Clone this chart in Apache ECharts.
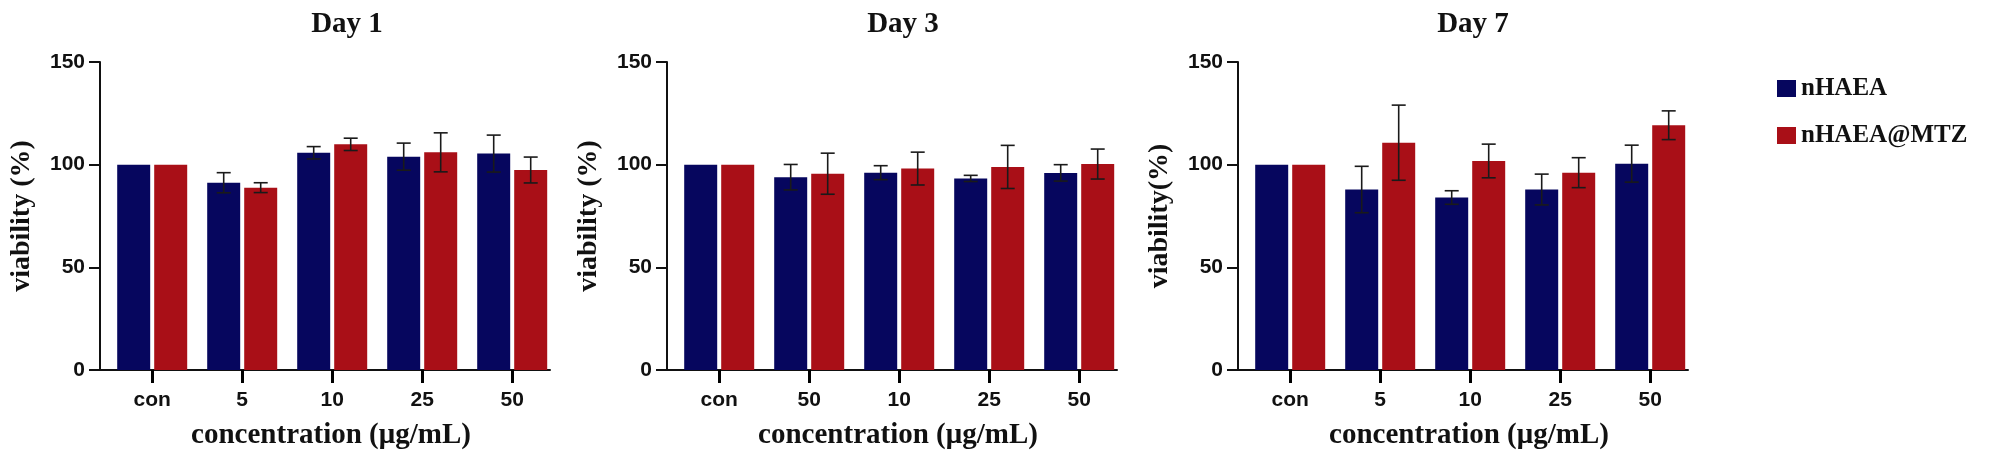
<!DOCTYPE html>
<html>
<head>
<meta charset="utf-8">
<script src="https://cdn.jsdelivr.net/npm/echarts@6/dist/echarts.min.js"></script>
<style>
html,body{margin:0;padding:0;background:#fff;}
#chart{width:1998px;height:469px;}
</style>
</head>
<body>
<div id="chart"></div>
<script>
// ---- data ----
const panelTitles = ['Day 1', 'Day 3', 'Day 7'];
const seriesNames = ['nHAEA', 'nHAEA@MTZ'];
const categoriesDay1 = ['con', '5', '10', '25', '50'];
const categoriesDay3 = ['con', '50', '10', '25', '50'];
const categoriesDay7 = ['con', '5', '10', '25', '50'];
const yTicks = [0, 50, 100, 150];

const day1_nHAEA = [100, 91.2, 105.8, 103.9, 105.4];
const day1_nHAEA_err = [0, 4.9, 3.0, 6.6, 9.0];
const day1_MTZ = [100, 88.8, 109.9, 106.0, 97.4];
const day1_MTZ_err = [0, 2.4, 3.0, 9.5, 6.3];

const day3_nHAEA = [100, 93.9, 96.1, 93.3, 96.0];
const day3_nHAEA_err = [0, 6.2, 3.4, 1.5, 4.0];
const day3_MTZ = [100, 95.6, 98.1, 98.9, 100.3];
const day3_MTZ_err = [0, 10.0, 8.0, 10.5, 7.3];

const day7_nHAEA = [100, 87.9, 84.0, 87.9, 100.5];
const day7_nHAEA_err = [0, 11.3, 3.3, 7.5, 9.0];
const day7_MTZ = [100, 110.7, 101.8, 96.1, 119.2];
const day7_MTZ_err = [0, 18.3, 8.2, 7.3, 7.0];

// ---- styling ----
const BLUE = '#06065e';
const RED = '#a90f17';
const BAR_W = 33;
const BAR_GAP_PX = 4;
const serif = '"Liberation Serif", "Times New Roman", serif';
const sans = '"Liberation Sans", Arial, sans-serif';

const panels = [
  {cats: categoriesDay1, a: day1_nHAEA, ae: day1_nHAEA_err, b: day1_MTZ, be: day1_MTZ_err, left: 100, yName: 'viability (%)', titleX: 342},
  {cats: categoriesDay3, a: day3_nHAEA, ae: day3_nHAEA_err, b: day3_MTZ, be: day3_MTZ_err, left: 667, yName: 'viability (%)', titleX: 898},
  {cats: categoriesDay7, a: day7_nHAEA, ae: day7_nHAEA_err, b: day7_MTZ, be: day7_MTZ_err, left: 1238, yName: 'viability(%)', titleX: 1468}
];

const grids = [], xAxes = [], yAxes = [], series = [], titles = [];

function errRender(offset) {
  return function (params, api) {
    const x = api.value(0), lo = api.value(1), hi = api.value(2);
    const pLo = api.coord([x, lo]), pHi = api.coord([x, hi]);
    const cx = pLo[0] + offset;
    const cap = 7;
    const st = {stroke: '#1a1a1a', lineWidth: 1.6};
    return {type: 'group', children: [
      {type: 'line', shape: {x1: cx, y1: pHi[1], x2: cx, y2: pLo[1]}, style: st},
      {type: 'line', shape: {x1: cx - cap, y1: pHi[1], x2: cx + cap, y2: pHi[1]}, style: st},
      {type: 'line', shape: {x1: cx - cap, y1: pLo[1], x2: cx + cap, y2: pLo[1]}, style: st}
    ]};
  };
}

panels.forEach((p, k) => {
  grids.push({left: p.left, top: 62, width: 450, height: 308, containLabel: false});
  titles.push({
    text: panelTitles[k], left: p.titleX, top: 5, textAlign: 'center',
    textStyle: {fontFamily: serif, fontWeight: 'bold', fontSize: 29, color: '#111'}
  });
  const cats = p.cats;
  xAxes.push({
    type: 'value', gridIndex: k, min: -0.58, max: 4.42,
    axisLine: {show: true, onZero: false, lineStyle: {color: '#111', width: 2}},
    axisTick: {show: true, customValues: [0, 1, 2, 3, 4], length: 13, lineStyle: {color: '#000', width: 3}},
    axisLabel: {show: true, customValues: [0, 1, 2, 3, 4], margin: 20, formatter: v => cats[Math.round(v)],
      fontFamily: sans, fontWeight: 'bold', fontSize: 21, color: '#111'},
    splitLine: {show: false},
    name: 'concentration (μg/mL)', nameLocation: 'middle', nameGap: 51,
    nameTextStyle: {fontFamily: serif, fontWeight: 'bold', fontSize: 29, color: '#111', padding: [0, 0, 0, 12]}
  });
  yAxes.push({
    type: 'value', gridIndex: k, min: 0, max: 150, interval: 50,
    axisLine: {show: true, onZero: false, lineStyle: {color: '#111', width: 2}},
    axisTick: {show: true, length: 11, lineStyle: {color: '#111', width: 2}},
    axisLabel: {margin: 15, fontFamily: sans, fontWeight: 'bold', fontSize: 21, color: '#111',
      formatter: v => (yTicks.indexOf(v) >= 0 ? String(v) : '')},
    splitLine: {show: false},
    name: p.yName, nameLocation: 'middle', nameGap: 64, nameRotate: 90,
    nameTextStyle: {fontFamily: serif, fontWeight: 'bold', fontSize: 28, color: '#111'}
  });
  const barCommon = {type: 'bar', xAxisIndex: k, yAxisIndex: k, barWidth: BAR_W,
    barGap: (BAR_GAP_PX / BAR_W * 100) + '%', animation: false};
  series.push(Object.assign({}, barCommon, {name: seriesNames[0], itemStyle: {color: BLUE},
    data: p.a.map((v, i) => [i, v])}));
  series.push(Object.assign({}, barCommon, {name: seriesNames[1], itemStyle: {color: RED},
    data: p.b.map((v, i) => [i, v])}));
  const off = (BAR_W + BAR_GAP_PX) / 2;
  series.push({type: 'custom', name: 'errA' + k, xAxisIndex: k, yAxisIndex: k, z: 10,
    renderItem: errRender(-off), encode: {x: 0, y: [1, 2]}, animation: false,
    data: p.a.map((v, i) => [i, v - p.ae[i], v + p.ae[i]]).filter((d, i) => p.ae[i] > 0)});
  series.push({type: 'custom', name: 'errB' + k, xAxisIndex: k, yAxisIndex: k, z: 10,
    renderItem: errRender(off), encode: {x: 0, y: [1, 2]}, animation: false,
    data: p.b.map((v, i) => [i, v - p.be[i], v + p.be[i]]).filter((d, i) => p.be[i] > 0)});
});

const chart = echarts.init(document.getElementById('chart'), null, {renderer: 'canvas'});
chart.setOption({
  backgroundColor: '#fff',
  animation: false,
  title: titles,
  legend: {
    data: seriesNames, orient: 'vertical', left: 1772, top: 71,
    icon: 'rect', itemWidth: 19, itemHeight: 17, itemGap: 22,
    textStyle: {fontFamily: serif, fontWeight: 'bold', fontSize: 25, color: '#111'}
  },
  grid: grids,
  xAxis: xAxes,
  yAxis: yAxes,
  series: series
});
</script>
</body>
</html>
